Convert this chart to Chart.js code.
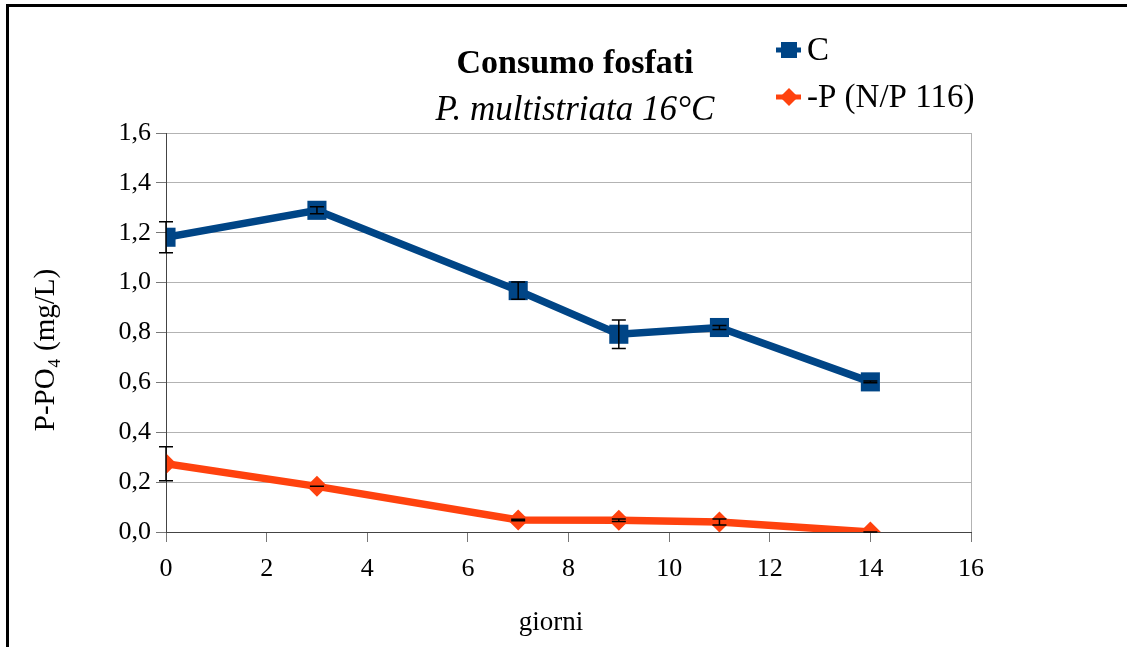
<!DOCTYPE html>
<html>
<head>
<meta charset="utf-8">
<script src="https://cdn.jsdelivr.net/npm/chart.js@4"></script>
<style>
html,body{margin:0;padding:0;background:#fff;}
canvas{display:block;}
</style>
</head>
<body>
<canvas id="c" width="1127" height="647"></canvas>
<script>
const days = [0, 3, 7, 9, 11, 14];
const seriesNames = ['C', '-P (N/P 116)'];
const valuesC = [1.182, 1.29, 0.968, 0.793, 0.82, 0.602];
const errorsC = [0.062, 0.014, 0.035, 0.057, 0.008, 0.004];
const valuesP = [0.274, 0.183, 0.048, 0.047, 0.04, 0.0];
const errorsP = [0.068, 0.0, 0.003, 0.005, 0.012, 0.0];
const xTicks = [0, 2, 4, 6, 8, 10, 12, 14, 16];
const yTicks = ['0,0', '0,2', '0,4', '0,6', '0,8', '1,0', '1,2', '1,4', '1,6'];
const titleText = 'Consumo fosfati';
const subtitleText = 'P. multistriata 16°C';
const xTitle = 'giorni';
const yTitle = 'P-PO\u2084 (mg/L)';

const colorC = '#004586';
const colorP = '#ff420e';
const FONT = '"Liberation Serif", "Times New Roman", serif';

const toPts = (vals) => days.map((d, i) => ({x: d, y: vals[i]}));

const errorBars = {
  id: 'errorBars',
  afterDatasetsDraw(chart) {
    const {ctx, scales: {x, y}} = chart;
    const sets = [[valuesC, errorsC], [valuesP, errorsP]];
    ctx.save();
    ctx.strokeStyle = '#000';
    ctx.lineWidth = 1.5;
    sets.forEach(([vals, errs]) => {
      days.forEach((d, i) => {
        const px = x.getPixelForValue(d);
        const top = y.getPixelForValue(vals[i] + errs[i]);
        const bot = y.getPixelForValue(Math.max(0, vals[i] - errs[i]));
        ctx.beginPath();
        ctx.moveTo(px, top); ctx.lineTo(px, bot);
        ctx.moveTo(px - 7, top); ctx.lineTo(px + 7, top);
        ctx.moveTo(px - 7, bot); ctx.lineTo(px + 7, bot);
        ctx.stroke();
      });
    });
    ctx.restore();
  }
};

const decor = {
  id: 'decor',
  beforeDraw(chart) {
    const ctx = chart.ctx;
    ctx.save();
    ctx.fillStyle = '#fff';
    ctx.fillRect(0, 0, chart.width, chart.height);
    ctx.fillStyle = '#000';
    ctx.fillRect(6, 4, chart.width - 6, 3);
    ctx.fillRect(6, 4, 3, chart.height - 4);
    ctx.restore();
  },
  afterDraw(chart) {
    const ctx = chart.ctx;
    ctx.save();
    ctx.fillStyle = '#000';
    ctx.textAlign = 'center';
    ctx.textBaseline = 'alphabetic';
    ctx.font = 'bold 34px ' + FONT;
    ctx.fillText(titleText, 575, 73);
    ctx.font = 'italic 35px ' + FONT;
    ctx.fillText(subtitleText, 575, 120);
    // axis titles
    ctx.font = '27px ' + FONT;
    ctx.textBaseline = 'middle';
    ctx.fillText(xTitle, 551, 623);
    ctx.save();
    ctx.translate(46, 350);
    ctx.rotate(-Math.PI / 2);
    ctx.font = '29px ' + FONT;
    ctx.fillText(yTitle, 0, 0);
    ctx.restore();
    // legend
    const items = [
      {y: 50, color: colorC, style: 'rect', label: seriesNames[0]},
      {y: 97, color: colorP, style: 'rectRot', label: seriesNames[1]}
    ];
    items.forEach(it => {
      ctx.strokeStyle = it.color;
      ctx.lineWidth = 5;
      ctx.beginPath();
      ctx.moveTo(776, it.y); ctx.lineTo(801, it.y);
      ctx.stroke();
      ctx.fillStyle = it.color;
      ctx.beginPath();
      if (it.style === 'rect') {
        ctx.rect(781, it.y - 8, 16, 16);
      } else {
        ctx.moveTo(789, it.y - 9); ctx.lineTo(798, it.y);
        ctx.lineTo(789, it.y + 9); ctx.lineTo(780, it.y);
        ctx.closePath();
      }
      ctx.fill();
      ctx.fillStyle = '#000';
      ctx.textAlign = 'left';
      ctx.textBaseline = 'middle';
      ctx.font = '33px ' + FONT;
      ctx.fillText(it.label, 807, it.y + 1);
    });
    ctx.restore();
  }
};

new Chart(document.getElementById('c'), {
  type: 'line',
  data: {
    datasets: [
      {
        label: seriesNames[0],
        data: toPts(valuesC),
        borderColor: colorC,
        backgroundColor: colorC,
        borderWidth: 7.5,
        pointStyle: 'rect',
        pointRadius: 13.5,
        pointBorderWidth: 0,
        pointHoverRadius: 13.5,
        tension: 0
      },
      {
        label: seriesNames[1],
        data: toPts(valuesP),
        borderColor: colorP,
        backgroundColor: colorP,
        borderWidth: 7.5,
        pointStyle: 'rectRot',
        pointRadius: 10.5,
        pointBorderWidth: 0,
        pointHoverRadius: 10.5,
        tension: 0
      }
    ]
  },
  options: {
    responsive: false,
    animation: false,
    events: [],
    layout: {padding: {top: 133, right: 156, left: 0, bottom: 0}},
    plugins: {legend: {display: false}, title: {display: false}, tooltip: {enabled: false}},
    scales: {
      x: {
        type: 'linear',
        min: 0, max: 16,
        afterBuildTicks: (s) => { s.ticks = xTicks.map(v => ({value: v})); },
        afterFit: (s) => { s.height = 115; },
        ticks: {
          color: '#000',
          font: {family: FONT, size: 26},
          padding: 12,
          maxRotation: 0,
          callback: (v) => String(v)
        },
        grid: {
          color: (c) => (c.tick && c.tick.value === 16) ? '#b3b3b3' : 'rgba(0,0,0,0)',
          tickColor: '#777',
          tickLength: 10,
          lineWidth: 1
        },
        border: {color: '#444', width: 1},
        title: {display: false}
      },
      y: {
        min: 0, max: 1.6,
        afterBuildTicks: (s) => { s.ticks = yTicks.map((t, i) => ({value: i * 0.2})); },
        afterFit: (s) => { s.width = 166; },
        ticks: {
          color: '#000',
          font: {family: FONT, size: 26},
          padding: 5,
          callback: (v, i) => yTicks[i]
        },
        grid: {
          color: '#b3b3b3',
          tickColor: '#777',
          tickLength: 10,
          lineWidth: 1
        },
        border: {color: '#444', width: 1},
        title: {display: false}
      }
    }
  },
  plugins: [decor, errorBars]
});
</script>
</body>
</html>
